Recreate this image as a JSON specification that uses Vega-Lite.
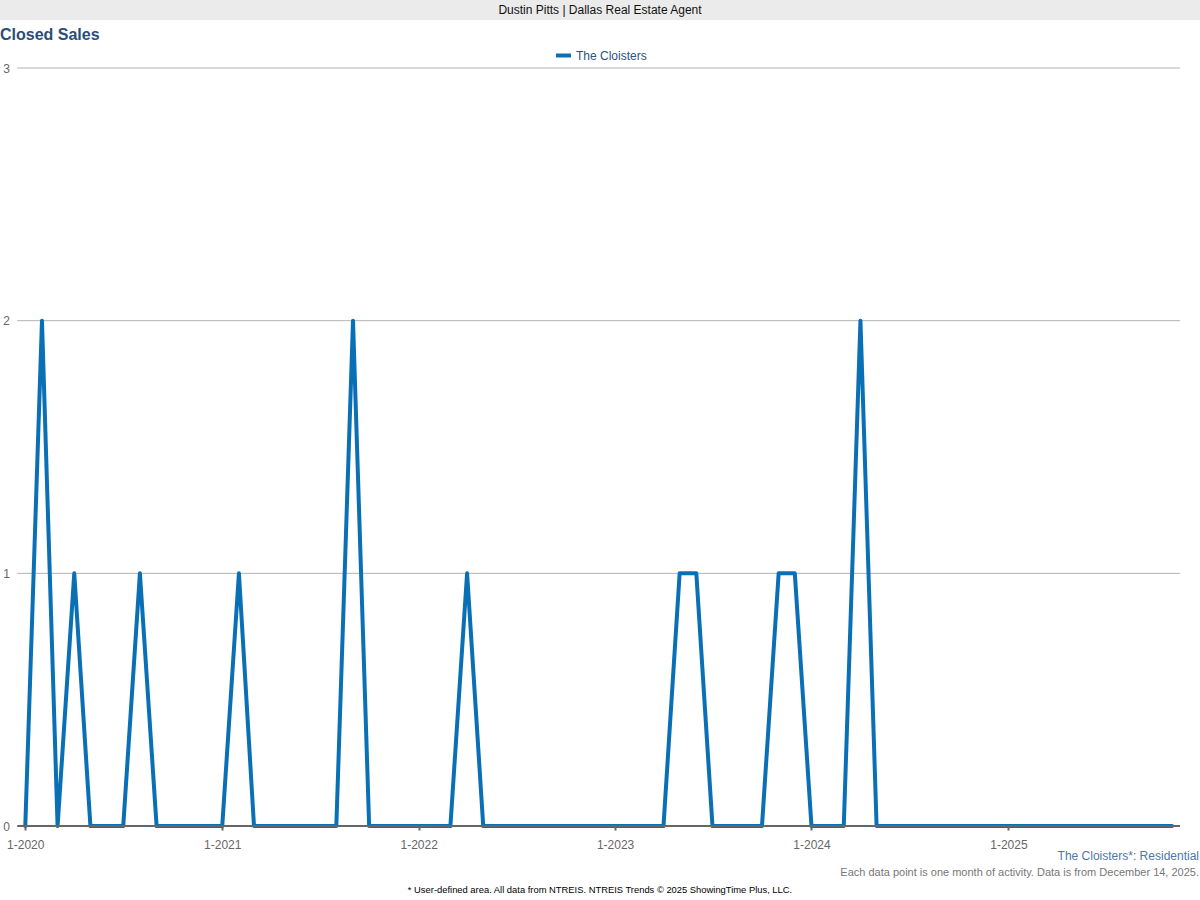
{
  "$schema": "https://vega.github.io/schema/vega-lite/v6.json",
  "padding": 0,
  "background": "white",
  "spacing": 3,
  "bounds": "full",
  "config": {"font": "Liberation Sans", "view": {"stroke": null}},
  "resolve": {"scale": {"color": "independent"}, "legend": {"color": "independent"}},
  "title": {"text": "* User-defined area. All data from NTREIS. NTREIS Trends © 2025 ShowingTime Plus, LLC.", "orient": "bottom", "anchor": "middle", "fontSize": 9.4, "font": "Liberation Sans", "fontWeight": "normal", "color": "#000000", "offset": 8},
  "datasets": {
    "header": [{"label": "Dustin Pitts | Dallas Real Estate Agent"}],
    "grid": [{"v": 1}, {"v": 2}, {"v": 3}],
    "base": [{"v": 0}],
    "sales": [
      {"month": "2020-01-01", "sales": 0, "area": "The Cloisters"},
      {"month": "2020-02-01", "sales": 2, "area": "The Cloisters"},
      {"month": "2020-03-01", "sales": 0, "area": "The Cloisters"},
      {"month": "2020-04-01", "sales": 1, "area": "The Cloisters"},
      {"month": "2020-05-01", "sales": 0, "area": "The Cloisters"},
      {"month": "2020-06-01", "sales": 0, "area": "The Cloisters"},
      {"month": "2020-07-01", "sales": 0, "area": "The Cloisters"},
      {"month": "2020-08-01", "sales": 1, "area": "The Cloisters"},
      {"month": "2020-09-01", "sales": 0, "area": "The Cloisters"},
      {"month": "2020-10-01", "sales": 0, "area": "The Cloisters"},
      {"month": "2020-11-01", "sales": 0, "area": "The Cloisters"},
      {"month": "2020-12-01", "sales": 0, "area": "The Cloisters"},
      {"month": "2021-01-01", "sales": 0, "area": "The Cloisters"},
      {"month": "2021-02-01", "sales": 1, "area": "The Cloisters"},
      {"month": "2021-03-01", "sales": 0, "area": "The Cloisters"},
      {"month": "2021-04-01", "sales": 0, "area": "The Cloisters"},
      {"month": "2021-05-01", "sales": 0, "area": "The Cloisters"},
      {"month": "2021-06-01", "sales": 0, "area": "The Cloisters"},
      {"month": "2021-07-01", "sales": 0, "area": "The Cloisters"},
      {"month": "2021-08-01", "sales": 0, "area": "The Cloisters"},
      {"month": "2021-09-01", "sales": 2, "area": "The Cloisters"},
      {"month": "2021-10-01", "sales": 0, "area": "The Cloisters"},
      {"month": "2021-11-01", "sales": 0, "area": "The Cloisters"},
      {"month": "2021-12-01", "sales": 0, "area": "The Cloisters"},
      {"month": "2022-01-01", "sales": 0, "area": "The Cloisters"},
      {"month": "2022-02-01", "sales": 0, "area": "The Cloisters"},
      {"month": "2022-03-01", "sales": 0, "area": "The Cloisters"},
      {"month": "2022-04-01", "sales": 1, "area": "The Cloisters"},
      {"month": "2022-05-01", "sales": 0, "area": "The Cloisters"},
      {"month": "2022-06-01", "sales": 0, "area": "The Cloisters"},
      {"month": "2022-07-01", "sales": 0, "area": "The Cloisters"},
      {"month": "2022-08-01", "sales": 0, "area": "The Cloisters"},
      {"month": "2022-09-01", "sales": 0, "area": "The Cloisters"},
      {"month": "2022-10-01", "sales": 0, "area": "The Cloisters"},
      {"month": "2022-11-01", "sales": 0, "area": "The Cloisters"},
      {"month": "2022-12-01", "sales": 0, "area": "The Cloisters"},
      {"month": "2023-01-01", "sales": 0, "area": "The Cloisters"},
      {"month": "2023-02-01", "sales": 0, "area": "The Cloisters"},
      {"month": "2023-03-01", "sales": 0, "area": "The Cloisters"},
      {"month": "2023-04-01", "sales": 0, "area": "The Cloisters"},
      {"month": "2023-05-01", "sales": 1, "area": "The Cloisters"},
      {"month": "2023-06-01", "sales": 1, "area": "The Cloisters"},
      {"month": "2023-07-01", "sales": 0, "area": "The Cloisters"},
      {"month": "2023-08-01", "sales": 0, "area": "The Cloisters"},
      {"month": "2023-09-01", "sales": 0, "area": "The Cloisters"},
      {"month": "2023-10-01", "sales": 0, "area": "The Cloisters"},
      {"month": "2023-11-01", "sales": 1, "area": "The Cloisters"},
      {"month": "2023-12-01", "sales": 1, "area": "The Cloisters"},
      {"month": "2024-01-01", "sales": 0, "area": "The Cloisters"},
      {"month": "2024-02-01", "sales": 0, "area": "The Cloisters"},
      {"month": "2024-03-01", "sales": 0, "area": "The Cloisters"},
      {"month": "2024-04-01", "sales": 2, "area": "The Cloisters"},
      {"month": "2024-05-01", "sales": 0, "area": "The Cloisters"},
      {"month": "2024-06-01", "sales": 0, "area": "The Cloisters"},
      {"month": "2024-07-01", "sales": 0, "area": "The Cloisters"},
      {"month": "2024-08-01", "sales": 0, "area": "The Cloisters"},
      {"month": "2024-09-01", "sales": 0, "area": "The Cloisters"},
      {"month": "2024-10-01", "sales": 0, "area": "The Cloisters"},
      {"month": "2024-11-01", "sales": 0, "area": "The Cloisters"},
      {"month": "2024-12-01", "sales": 0, "area": "The Cloisters"},
      {"month": "2025-01-01", "sales": 0, "area": "The Cloisters"},
      {"month": "2025-02-01", "sales": 0, "area": "The Cloisters"},
      {"month": "2025-03-01", "sales": 0, "area": "The Cloisters"},
      {"month": "2025-04-01", "sales": 0, "area": "The Cloisters"},
      {"month": "2025-05-01", "sales": 0, "area": "The Cloisters"},
      {"month": "2025-06-01", "sales": 0, "area": "The Cloisters"},
      {"month": "2025-07-01", "sales": 0, "area": "The Cloisters"},
      {"month": "2025-08-01", "sales": 0, "area": "The Cloisters"},
      {"month": "2025-09-01", "sales": 0, "area": "The Cloisters"},
      {"month": "2025-10-01", "sales": 0, "area": "The Cloisters"},
      {"month": "2025-11-01", "sales": 0, "area": "The Cloisters"}
    ]
  },
  "vconcat": [
    {
      "width": 1200,
      "height": 20,
      "data": {"name": "header"},
      "view": {"fill": "#ebebeb", "stroke": null},
      "title": {"text": "Closed Sales", "orient": "bottom", "anchor": "start", "frame": "group", "fontSize": 16, "fontWeight": "bold", "color": "#2b4e76", "offset": 7},
      "mark": {"type": "text", "fontSize": 12, "color": "#111111"},
      "encoding": {"text": {"field": "label", "type": "nominal"}}
    },
    {
      "width": 1200,
      "height": 758,
      "title": {"text": "The Cloisters*: Residential", "subtitle": "Each data point is one month of activity. Data is from December 14, 2025.", "orient": "bottom", "anchor": "end", "frame": "group", "dx": -1, "fontSize": 12, "fontWeight": "normal", "color": "#4f76a6", "subtitleColor": "#777777", "subtitleFontSize": 11, "subtitlePadding": 4, "offset": 1},
      "encoding": {
        "x": {
          "type": "temporal",
          "scale": {"type": "utc", "domain": [{"year": 2019, "month": 11, "date": 15, "utc": true}, {"year": 2025, "month": 12, "date": 23, "utc": true}]},
          "axis": {
            "values": [
              {"year": 2020, "month": 1, "date": 1, "utc": true},
              {"year": 2021, "month": 1, "date": 1, "utc": true},
              {"year": 2022, "month": 1, "date": 1, "utc": true},
              {"year": 2023, "month": 1, "date": 1, "utc": true},
              {"year": 2024, "month": 1, "date": 1, "utc": true},
              {"year": 2025, "month": 1, "date": 1, "utc": true}
            ],
            "format": "%-m-%Y", "title": null, "grid": false, "domain": false, "zindex": 1,
            "tickColor": "#666666", "tickWidth": 2, "tickSize": 4,
            "labelColor": "#666666", "labelFontSize": 12, "labelPadding": 9
          }
        },
        "y": {
          "type": "quantitative",
          "scale": {"domain": [0, 3]},
          "axis": {
            "values": [0, 1, 2, 3], "format": "d", "title": null, "grid": false,
            "domain": false, "ticks": false, "tickSize": 0, "labelAlign": "right",
            "labelColor": "#666666", "labelFontSize": 12, "labelPadding": -9.5
          }
        }
      },
      "layer": [
        {
          "data": {"name": "grid"},
          "mark": {"type": "rule", "color": "#b3b3b3", "strokeWidth": 1},
          "encoding": {
            "y": {"field": "v", "type": "quantitative"},
            "x": {"datum": {"year": 2019, "month": 12, "date": 17, "utc": true}, "type": "temporal"},
            "x2": {"datum": {"year": 2025, "month": 11, "date": 16, "utc": true}}
          }
        },
        {
          "data": {"name": "sales"},
          "mark": {"type": "line", "strokeWidth": 4, "strokeJoin": "round", "strokeCap": "round"},
          "encoding": {
            "x": {"field": "month", "type": "temporal"},
            "y": {"field": "sales", "type": "quantitative"},
            "color": {
              "field": "area", "type": "nominal",
              "scale": {"range": ["#0a70b6"]},
              "legend": {"orient": "none", "legendX": 554, "legendY": -22, "title": null, "symbolType": "stroke", "symbolStrokeWidth": 4, "symbolSize": 225, "labelFontSize": 12, "labelColor": "#2e5380", "labelOffset": 3, "padding": 0}
            }
          }
        },
        {
          "data": {"name": "base"},
          "mark": {"type": "rule", "color": "#666666", "strokeWidth": 2},
          "encoding": {
            "y": {"field": "v", "type": "quantitative"},
            "x": {"datum": {"year": 2019, "month": 12, "date": 17, "utc": true}, "type": "temporal"},
            "x2": {"datum": {"year": 2025, "month": 11, "date": 16, "utc": true}}
          }
        }
      ]
    }
  ]
}
